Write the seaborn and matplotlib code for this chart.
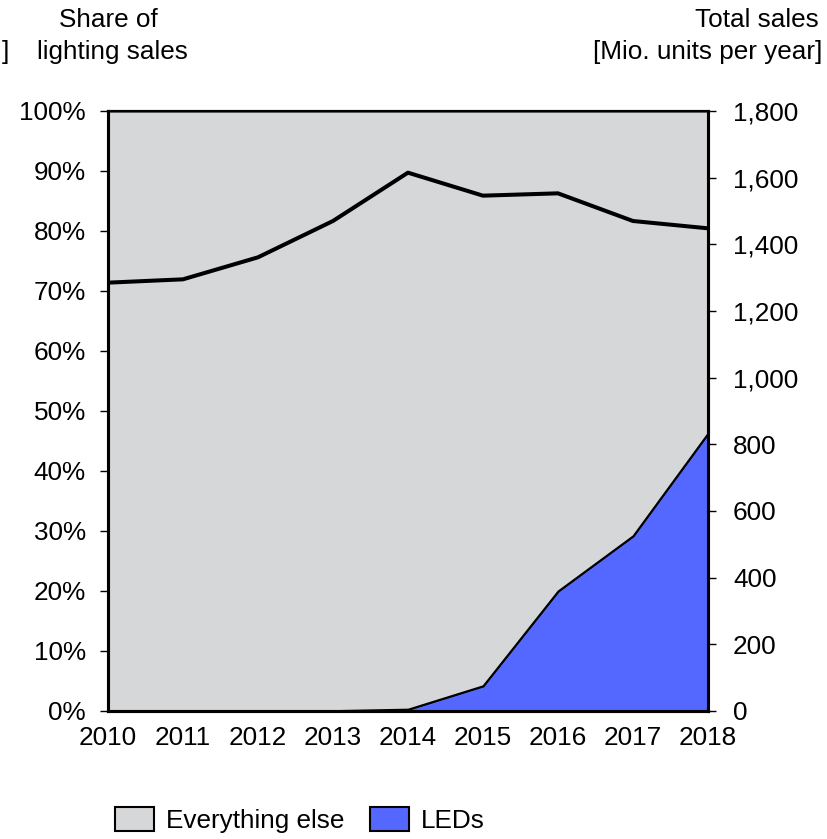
import matplotlib
matplotlib.use("Agg")
import matplotlib.pyplot as plt
import seaborn as sns
import pandas as pd
from matplotlib.patches import Patch
from matplotlib.ticker import FuncFormatter

years = [2010, 2011, 2012, 2013, 2014, 2015, 2016, 2017, 2018]
led_share = [0, 0, 0, 0.05, 0.3, 4.2, 20.0, 29.2, 46.3]
other_share = [100 - v for v in led_share]
total_sales = [1285, 1295, 1361, 1470, 1615, 1546, 1553, 1470, 1448]

gray = "#D6D7D9"
blue = "#5468FF"

sns.set_theme(style="white")
plt.rcParams["font.family"] = ["Liberation Sans", "DejaVu Sans"]
plt.rcParams["text.color"] = "black"
plt.rcParams["xtick.color"] = "black"
plt.rcParams["ytick.color"] = "black"
fs = 18.8

fig = plt.figure(figsize=(8.28, 8.39), dpi=100)
ax = fig.add_axes([0.1304, 0.1526, 0.7246, 0.7151])

ax.stackplot(years, led_share, other_share, colors=[blue, gray],
             edgecolor="black", linewidth=1.5)
ax.set_xlim(2010, 2018)
ax.set_ylim(0, 100)
ax.set_yticks(range(0, 101, 10))
ax.yaxis.set_major_formatter(FuncFormatter(lambda v, p: f"{v:.0f}%"))
ax.set_xticks(years)

ax2 = ax.twinx()
df = pd.DataFrame({"year": years, "total": total_sales})
sns.lineplot(data=df, x="year", y="total", ax=ax2, color="black", linewidth=2.9)
ax2.set_ylim(0, 1800)
ax2.set_yticks(range(0, 1801, 200))
ax2.yaxis.set_major_formatter(FuncFormatter(lambda v, p: f"{v:,.0f}"))
ax2.set_xlabel("")
ax2.set_ylabel("")
ax.set_xlabel("")

for a in (ax, ax2):
    for s in a.spines.values():
        s.set_color("black")
    a.spines["left"].set_linewidth(2.2)
    a.spines["right"].set_linewidth(2.2)
    a.spines["bottom"].set_linewidth(2.2)
    a.spines["top"].set_linewidth(1.5)

ax.tick_params(axis="y", left=True, right=False, length=6, width=1, colors="black",
               labelsize=fs, pad=10)
ax.tick_params(axis="x", bottom=False, colors="black", labelsize=fs, pad=5)
ax2.tick_params(axis="y", right=True, left=False, length=6, width=1, colors="black",
                labelsize=fs, pad=12)

fig.text(108 / 828, 1 - 20 / 839, "Share of", ha="center", va="center", fontsize=fs)
fig.text(112 / 828, 1 - 52 / 839, "lighting sales", ha="center", va="center", fontsize=fs)
fig.text(5 / 828, 1 - 52 / 839, "]", ha="center", va="center", fontsize=fs)
fig.text(757 / 828, 1 - 20 / 839, "Total sales", ha="center", va="center", fontsize=fs)
fig.text(708 / 828, 1 - 52 / 839, "[Mio. units per year]", ha="center", va="center", fontsize=fs)

handles = [Patch(facecolor=gray, edgecolor="black", linewidth=1.5, label="Everything else"),
           Patch(facecolor=blue, edgecolor="black", linewidth=1.5, label="LEDs")]
fig.legend(handles=handles, loc="center", bbox_to_anchor=(300 / 828, 1 - 820 / 839),
           ncol=2, frameon=False, fontsize=fs, handlelength=1.5, handleheight=1.05,
           handletextpad=0.45, columnspacing=1.0, labelcolor="black")

fig.savefig("out.png", dpi=100)
